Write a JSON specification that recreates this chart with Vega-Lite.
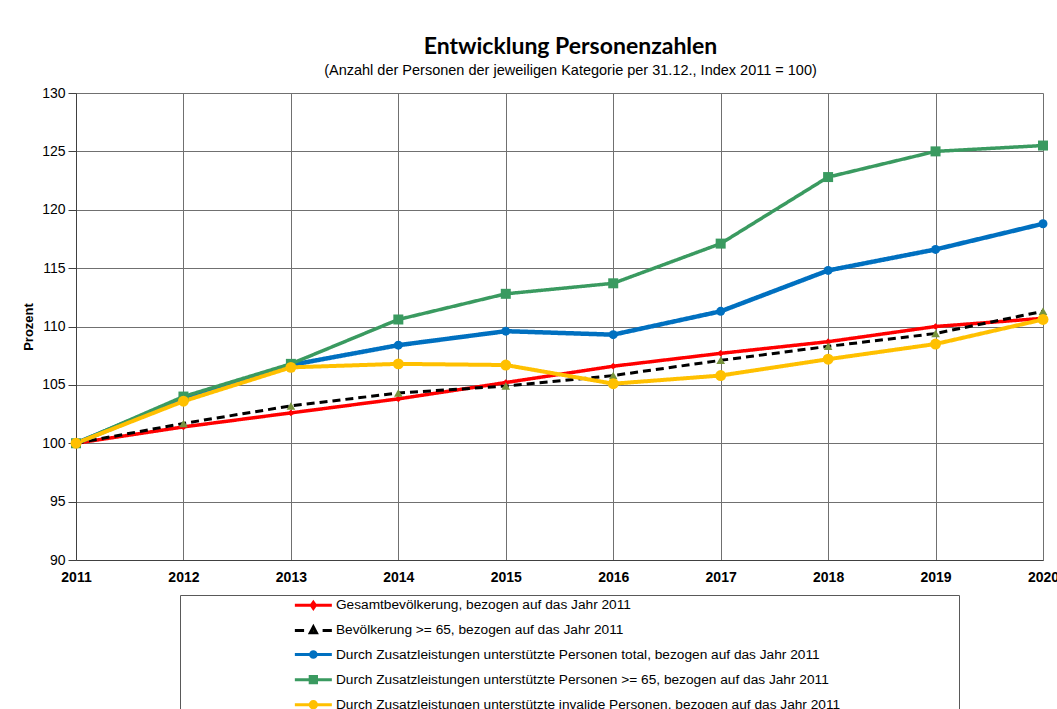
{
  "$schema": "https://vega.github.io/schema/vega-lite/v6.json",
  "width": 967,
  "height": 467,
  "autosize": {"type": "none"},
  "padding": {"left": 76, "top": 93, "right": 14, "bottom": 149},
  "background": "white",
  "title": {
    "text": "Entwicklung Personenzahlen",
    "subtitle": "(Anzahl der Personen der jeweiligen Kategorie per 31.12., Index 2011 = 100)",
    "anchor": "middle",
    "dx": 11,
    "font": "Lato",
    "fontSize": 23,
    "fontWeight": "bold",
    "color": "black",
    "subtitleFont": "Liberation Sans",
    "subtitleFontSize": 14.5,
    "subtitleColor": "black",
    "subtitlePadding": 5,
    "offset": 9
  },
  "config": {"view": {"stroke": null}},
  "data": {
    "values": [
      {"year": 2011, "series": "Gesamtbevölkerung, bezogen auf das Jahr 2011", "value": 100},
      {"year": 2012, "series": "Gesamtbevölkerung, bezogen auf das Jahr 2011", "value": 101.4},
      {"year": 2013, "series": "Gesamtbevölkerung, bezogen auf das Jahr 2011", "value": 102.6},
      {"year": 2014, "series": "Gesamtbevölkerung, bezogen auf das Jahr 2011", "value": 103.8},
      {"year": 2015, "series": "Gesamtbevölkerung, bezogen auf das Jahr 2011", "value": 105.2},
      {"year": 2016, "series": "Gesamtbevölkerung, bezogen auf das Jahr 2011", "value": 106.6},
      {"year": 2017, "series": "Gesamtbevölkerung, bezogen auf das Jahr 2011", "value": 107.7},
      {"year": 2018, "series": "Gesamtbevölkerung, bezogen auf das Jahr 2011", "value": 108.7},
      {"year": 2019, "series": "Gesamtbevölkerung, bezogen auf das Jahr 2011", "value": 110.0},
      {"year": 2020, "series": "Gesamtbevölkerung, bezogen auf das Jahr 2011", "value": 110.7},
      {"year": 2011, "series": "Bevölkerung >= 65, bezogen auf das Jahr 2011", "value": 100},
      {"year": 2012, "series": "Bevölkerung >= 65, bezogen auf das Jahr 2011", "value": 101.7},
      {"year": 2013, "series": "Bevölkerung >= 65, bezogen auf das Jahr 2011", "value": 103.2},
      {"year": 2014, "series": "Bevölkerung >= 65, bezogen auf das Jahr 2011", "value": 104.3},
      {"year": 2015, "series": "Bevölkerung >= 65, bezogen auf das Jahr 2011", "value": 104.9},
      {"year": 2016, "series": "Bevölkerung >= 65, bezogen auf das Jahr 2011", "value": 105.8},
      {"year": 2017, "series": "Bevölkerung >= 65, bezogen auf das Jahr 2011", "value": 107.1},
      {"year": 2018, "series": "Bevölkerung >= 65, bezogen auf das Jahr 2011", "value": 108.3},
      {"year": 2019, "series": "Bevölkerung >= 65, bezogen auf das Jahr 2011", "value": 109.4},
      {"year": 2020, "series": "Bevölkerung >= 65, bezogen auf das Jahr 2011", "value": 111.3},
      {"year": 2011, "series": "Durch Zusatzleistungen unterstützte Personen total, bezogen auf das Jahr 2011", "value": 100},
      {"year": 2012, "series": "Durch Zusatzleistungen unterstützte Personen total, bezogen auf das Jahr 2011", "value": 103.8},
      {"year": 2013, "series": "Durch Zusatzleistungen unterstützte Personen total, bezogen auf das Jahr 2011", "value": 106.7},
      {"year": 2014, "series": "Durch Zusatzleistungen unterstützte Personen total, bezogen auf das Jahr 2011", "value": 108.4},
      {"year": 2015, "series": "Durch Zusatzleistungen unterstützte Personen total, bezogen auf das Jahr 2011", "value": 109.6},
      {"year": 2016, "series": "Durch Zusatzleistungen unterstützte Personen total, bezogen auf das Jahr 2011", "value": 109.3},
      {"year": 2017, "series": "Durch Zusatzleistungen unterstützte Personen total, bezogen auf das Jahr 2011", "value": 111.3},
      {"year": 2018, "series": "Durch Zusatzleistungen unterstützte Personen total, bezogen auf das Jahr 2011", "value": 114.8},
      {"year": 2019, "series": "Durch Zusatzleistungen unterstützte Personen total, bezogen auf das Jahr 2011", "value": 116.6},
      {"year": 2020, "series": "Durch Zusatzleistungen unterstützte Personen total, bezogen auf das Jahr 2011", "value": 118.8},
      {"year": 2011, "series": "Durch Zusatzleistungen unterstützte Personen >= 65, bezogen auf das Jahr 2011", "value": 100},
      {"year": 2012, "series": "Durch Zusatzleistungen unterstützte Personen >= 65, bezogen auf das Jahr 2011", "value": 104.0},
      {"year": 2013, "series": "Durch Zusatzleistungen unterstützte Personen >= 65, bezogen auf das Jahr 2011", "value": 106.8},
      {"year": 2014, "series": "Durch Zusatzleistungen unterstützte Personen >= 65, bezogen auf das Jahr 2011", "value": 110.6},
      {"year": 2015, "series": "Durch Zusatzleistungen unterstützte Personen >= 65, bezogen auf das Jahr 2011", "value": 112.8},
      {"year": 2016, "series": "Durch Zusatzleistungen unterstützte Personen >= 65, bezogen auf das Jahr 2011", "value": 113.7},
      {"year": 2017, "series": "Durch Zusatzleistungen unterstützte Personen >= 65, bezogen auf das Jahr 2011", "value": 117.1},
      {"year": 2018, "series": "Durch Zusatzleistungen unterstützte Personen >= 65, bezogen auf das Jahr 2011", "value": 122.8},
      {"year": 2019, "series": "Durch Zusatzleistungen unterstützte Personen >= 65, bezogen auf das Jahr 2011", "value": 125.0},
      {"year": 2020, "series": "Durch Zusatzleistungen unterstützte Personen >= 65, bezogen auf das Jahr 2011", "value": 125.5},
      {"year": 2011, "series": "Durch Zusatzleistungen unterstützte invalide Personen, bezogen auf das Jahr 2011", "value": 100},
      {"year": 2012, "series": "Durch Zusatzleistungen unterstützte invalide Personen, bezogen auf das Jahr 2011", "value": 103.6},
      {"year": 2013, "series": "Durch Zusatzleistungen unterstützte invalide Personen, bezogen auf das Jahr 2011", "value": 106.5},
      {"year": 2014, "series": "Durch Zusatzleistungen unterstützte invalide Personen, bezogen auf das Jahr 2011", "value": 106.8},
      {"year": 2015, "series": "Durch Zusatzleistungen unterstützte invalide Personen, bezogen auf das Jahr 2011", "value": 106.7},
      {"year": 2016, "series": "Durch Zusatzleistungen unterstützte invalide Personen, bezogen auf das Jahr 2011", "value": 105.1},
      {"year": 2017, "series": "Durch Zusatzleistungen unterstützte invalide Personen, bezogen auf das Jahr 2011", "value": 105.8},
      {"year": 2018, "series": "Durch Zusatzleistungen unterstützte invalide Personen, bezogen auf das Jahr 2011", "value": 107.2},
      {"year": 2019, "series": "Durch Zusatzleistungen unterstützte invalide Personen, bezogen auf das Jahr 2011", "value": 108.5},
      {"year": 2020, "series": "Durch Zusatzleistungen unterstützte invalide Personen, bezogen auf das Jahr 2011", "value": 110.6}
    ]
  },
  "resolve": {"scale": {"fill": "independent", "stroke": "independent", "shape": "independent"}},
  "layer": [
    {
      "mark": {"type": "line", "opacity": 1},
      "encoding": {
        "x": {
          "field": "year", "type": "quantitative",
          "scale": {"domain": [2011, 2020], "nice": false, "zero": false},
          "axis": {
            "values": [2011, 2012, 2013, 2014, 2015, 2016, 2017, 2018, 2019, 2020],
            "format": "d", "title": null, "grid": true, "gridColor": "#707070", "gridOpacity": 1,
            "ticks": false, "labelFont": "Liberation Sans", "labelFontSize": 14, "labelFontWeight": "bold",
            "labelColor": "black", "labelPadding": 10, "domainColor": "#404040", "labelFlush": false, "labelOverlap": false
          }
        },
        "y": {
          "field": "value", "type": "quantitative",
          "scale": {"domain": [90, 130], "nice": false, "zero": false},
          "axis": {
            "values": [90, 95, 100, 105, 110, 115, 120, 125, 130],
            "title": "Prozent", "titleFont": "Liberation Sans", "titleFontSize": 13, "titleFontWeight": "bold",
            "titleColor": "black", "titlePadding": 6, "grid": true, "gridColor": "#707070", "gridOpacity": 1,
            "tickSize": 8, "tickColor": "#404040", "domainColor": "#404040",
            "labelFont": "Liberation Sans", "labelFontSize": 14, "labelColor": "black", "labelPadding": 3
          }
        },
        "stroke": {
          "field": "series", "type": "nominal",
          "scale": {
            "domain": [
              "Gesamtbevölkerung, bezogen auf das Jahr 2011",
              "Bevölkerung >= 65, bezogen auf das Jahr 2011",
              "Durch Zusatzleistungen unterstützte Personen total, bezogen auf das Jahr 2011",
              "Durch Zusatzleistungen unterstützte Personen >= 65, bezogen auf das Jahr 2011",
              "Durch Zusatzleistungen unterstützte invalide Personen, bezogen auf das Jahr 2011"
            ],
            "range": ["#ff0000", "#000000", "#0070c0", "#3a9a60", "#ffc000"]
          },
          "legend": null
        },
        "strokeDash": {
          "field": "series", "type": "nominal",
          "scale": {
            "domain": [
              "Gesamtbevölkerung, bezogen auf das Jahr 2011",
              "Bevölkerung >= 65, bezogen auf das Jahr 2011",
              "Durch Zusatzleistungen unterstützte Personen total, bezogen auf das Jahr 2011",
              "Durch Zusatzleistungen unterstützte Personen >= 65, bezogen auf das Jahr 2011",
              "Durch Zusatzleistungen unterstützte invalide Personen, bezogen auf das Jahr 2011"
            ],
            "range": [[1, 0], [8, 5], [1, 0], [1, 0], [1, 0]]
          },
          "legend": null
        },
        "strokeWidth": {
          "field": "series", "type": "ordinal",
          "scale": {
            "type": "ordinal",
            "domain": [
              "Gesamtbevölkerung, bezogen auf das Jahr 2011",
              "Bevölkerung >= 65, bezogen auf das Jahr 2011",
              "Durch Zusatzleistungen unterstützte Personen total, bezogen auf das Jahr 2011",
              "Durch Zusatzleistungen unterstützte Personen >= 65, bezogen auf das Jahr 2011",
              "Durch Zusatzleistungen unterstützte invalide Personen, bezogen auf das Jahr 2011"
            ],
            "range": [3.5, 3, 4.5, 3.5, 4]
          },
          "legend": null
        }
      }
    },
    {
      "mark": {"type": "point", "filled": true, "opacity": 1},
      "encoding": {
        "x": {"field": "year", "type": "quantitative"},
        "y": {"field": "value", "type": "quantitative"},
        "fill": {
          "field": "series", "type": "nominal",
          "scale": {
            "domain": [
              "Gesamtbevölkerung, bezogen auf das Jahr 2011",
              "Bevölkerung >= 65, bezogen auf das Jahr 2011",
              "Durch Zusatzleistungen unterstützte Personen total, bezogen auf das Jahr 2011",
              "Durch Zusatzleistungen unterstützte Personen >= 65, bezogen auf das Jahr 2011",
              "Durch Zusatzleistungen unterstützte invalide Personen, bezogen auf das Jahr 2011"
            ],
            "range": ["#ff0000", "#77933c", "#0070c0", "#3a9a60", "#ffc000"]
          },
          "legend": null
        },
        "shape": {
          "field": "series", "type": "nominal",
          "scale": {
            "domain": [
              "Gesamtbevölkerung, bezogen auf das Jahr 2011",
              "Bevölkerung >= 65, bezogen auf das Jahr 2011",
              "Durch Zusatzleistungen unterstützte Personen total, bezogen auf das Jahr 2011",
              "Durch Zusatzleistungen unterstützte Personen >= 65, bezogen auf das Jahr 2011",
              "Durch Zusatzleistungen unterstützte invalide Personen, bezogen auf das Jahr 2011"
            ],
            "range": ["diamond", "triangle-up", "circle", "square", "circle"]
          },
          "legend": null
        },
        "size": {
          "field": "series", "type": "ordinal",
          "scale": {
            "type": "ordinal",
            "domain": [
              "Gesamtbevölkerung, bezogen auf das Jahr 2011",
              "Bevölkerung >= 65, bezogen auf das Jahr 2011",
              "Durch Zusatzleistungen unterstützte Personen total, bezogen auf das Jahr 2011",
              "Durch Zusatzleistungen unterstützte Personen >= 65, bezogen auf das Jahr 2011",
              "Durch Zusatzleistungen unterstützte invalide Personen, bezogen auf das Jahr 2011"
            ],
            "range": [45, 75, 80, 100, 120]
          },
          "legend": null
        }
      }
    },
    {
      "transform": [{"filter": "false"}],
      "mark": {"type": "point", "filled": true, "opacity": 1},
      "encoding": {
        "x": {"field": "year", "type": "quantitative"},
        "y": {"field": "value", "type": "quantitative"},
        "fill": {
          "field": "series", "type": "nominal",
          "scale": {
            "domain": [
              "Gesamtbevölkerung, bezogen auf das Jahr 2011",
              "Bevölkerung >= 65, bezogen auf das Jahr 2011",
              "Durch Zusatzleistungen unterstützte Personen total, bezogen auf das Jahr 2011",
              "Durch Zusatzleistungen unterstützte Personen >= 65, bezogen auf das Jahr 2011",
              "Durch Zusatzleistungen unterstützte invalide Personen, bezogen auf das Jahr 2011"
            ],
            "range": ["#ff0000", "#77933c", "#0070c0", "#3a9a60", "#ffc000"]
          },
          "legend": {
            "orient": "none", "legendX": 104, "legendY": 502,
            "title": ".", "titleOrient": "right", "titleColor": "transparent", "titlePadding": 111,
            "symbolSize": 100, "symbolStrokeWidth": 3, "symbolOffset": 123, "labelOffset": 15.75,
            "labelFont": "Liberation Sans", "labelFontSize": 13.7, "labelColor": "black",
            "rowPadding": 6.1, "padding": 3.5, "labelLimit": 800, "strokeColor": "#595959",
            "encode": {
              "symbols": {"update": {"size": {"value": 100}, "strokeWidth": {"value": 3}}}
            }
          }
        },
        "stroke": {
          "field": "series", "type": "nominal",
          "scale": {
            "domain": [
              "Gesamtbevölkerung, bezogen auf das Jahr 2011",
              "Bevölkerung >= 65, bezogen auf das Jahr 2011",
              "Durch Zusatzleistungen unterstützte Personen total, bezogen auf das Jahr 2011",
              "Durch Zusatzleistungen unterstützte Personen >= 65, bezogen auf das Jahr 2011",
              "Durch Zusatzleistungen unterstützte invalide Personen, bezogen auf das Jahr 2011"
            ],
            "range": ["#ff0000", "#000000", "#0070c0", "#3a9a60", "#ffc000"]
          },
          "legend": {
            "orient": "none", "legendX": 104, "legendY": 502,
            "title": ".", "titleOrient": "right", "titleColor": "transparent", "titlePadding": 111,
            "symbolSize": 100, "symbolStrokeWidth": 3, "symbolOffset": 123, "labelOffset": 15.75,
            "labelFont": "Liberation Sans", "labelFontSize": 13.7, "labelColor": "black",
            "rowPadding": 6.1, "padding": 3.5, "labelLimit": 800, "strokeColor": "#595959"
          }
        },
        "shape": {
          "field": "series", "type": "nominal",
          "scale": {
            "domain": [
              "Gesamtbevölkerung, bezogen auf das Jahr 2011",
              "Bevölkerung >= 65, bezogen auf das Jahr 2011",
              "Durch Zusatzleistungen unterstützte Personen total, bezogen auf das Jahr 2011",
              "Durch Zusatzleistungen unterstützte Personen >= 65, bezogen auf das Jahr 2011",
              "Durch Zusatzleistungen unterstützte invalide Personen, bezogen auf das Jahr 2011"
            ],
            "range": [
              "M-3.7,0H3.7M0,-0.6L0.42,0L0,0.6L-0.42,0Z",
              "M-3.7,0H-1.85M1.85,0H3.7M0,-0.68L0.6,0.45L-0.6,0.45Z",
              "M-3.7,0H3.7M0.56,0A0.56,0.56,0,1,1,-0.56,0A0.56,0.56,0,1,1,0.56,0Z",
              "M-3.7,0H3.7M-0.63,-0.63H0.63V0.63H-0.63Z",
              "M-3.7,0H3.7M0.63,0A0.63,0.63,0,1,1,-0.63,0A0.63,0.63,0,1,1,0.63,0Z"
            ]
          },
          "legend": {
            "orient": "none", "legendX": 104, "legendY": 502,
            "title": ".", "titleOrient": "right", "titleColor": "transparent", "titlePadding": 111,
            "symbolSize": 100, "symbolStrokeWidth": 3, "symbolOffset": 123, "labelOffset": 15.75,
            "labelFont": "Liberation Sans", "labelFontSize": 13.7, "labelColor": "black",
            "rowPadding": 6.1, "padding": 3.5, "labelLimit": 800, "strokeColor": "#595959"
          }
        }
      }
    }
  ]
}
